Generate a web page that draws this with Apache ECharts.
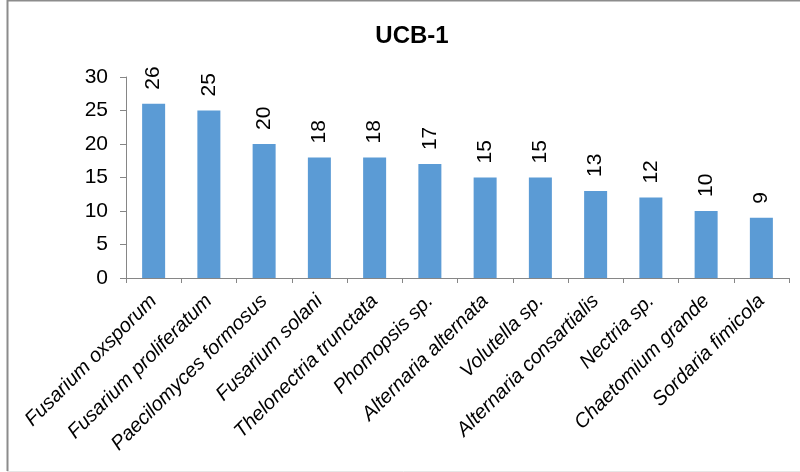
<!DOCTYPE html>
<html>
<head>
<meta charset="utf-8">
<script src="https://cdn.jsdelivr.net/npm/echarts@6/dist/echarts.min.js"></script>
<style>
  html, body { margin: 0; padding: 0; background: #ffffff; }
  #chart { width: 800px; height: 472px; }
</style>
</head>
<body>
<div id="chart"></div>
<script>
// Fungal isolates from UCB-1 and their counts
const categories = [
  'Fusarium oxsporum', 'Fusarium proliferatum', 'Paecilomyces formosus',
  'Fusarium solani', 'Thelonectria trunctata', 'Phomopsis sp.',
  'Alternaria alternata', 'Volutella sp.', 'Alternaria consartialis',
  'Nectria sp.', 'Chaetomium grande', 'Sordaria fimicola'
];
const counts = [26, 25, 20, 18, 18, 17, 15, 15, 13, 12, 10, 9];
const yTicks = { min: 0, max: 30, interval: 5 };

const chart = echarts.init(document.getElementById('chart'), null, { renderer: 'canvas' });
const axisGray = '#868686';
const font = 'Liberation Sans, Arial, sans-serif';

chart.setOption({
  animation: false,
  backgroundColor: '#ffffff',
  title: {
    text: 'UCB-1',
    left: 407,
    top: 19,
    textAlign: 'center',
    textStyle: { fontFamily: font, fontSize: 24, fontWeight: 'bold', color: '#000000' }
  },
  graphic: [
    { type: 'line', shape: { x1: 7, y1: 0.5, x2: 800, y2: 0.5 }, style: { stroke: '#8c8c8c', lineWidth: 2 } },
    { type: 'line', shape: { x1: 7.5, y1: 0, x2: 7.5, y2: 471 }, style: { stroke: '#8c8c8c', lineWidth: 2 } },
    { type: 'line', shape: { x1: 7, y1: 471.5, x2: 800, y2: 471.5 }, style: { stroke: '#e6e6e6', lineWidth: 1 } }
  ],
  grid: { left: 126, right: 11, top: 77, bottom: 194, containLabel: false },
  xAxis: {
    type: 'category',
    data: categories,
    axisLine: { lineStyle: { color: axisGray, width: 1 } },
    axisTick: { show: true, alignWithLabel: false, length: 5, lineStyle: { color: axisGray } },
    axisLabel: {
      interval: 0,
      rotate: 45,
      margin: 20,
      fontFamily: font,
      fontSize: 20,
      fontStyle: 'italic',
      color: '#000000'
    }
  },
  yAxis: {
    type: 'value',
    min: yTicks.min,
    max: yTicks.max,
    interval: yTicks.interval,
    splitLine: { show: false },
    axisLine: { show: true, lineStyle: { color: axisGray, width: 1 } },
    axisTick: { show: true, length: 6, lineStyle: { color: axisGray } },
    axisLabel: { margin: 18, fontFamily: font, fontSize: 21, color: '#000000' }
  },
  series: [{
    type: 'bar',
    data: counts,
    barWidth: 23,
    itemStyle: { color: '#5b9bd5' },
    label: {
      show: true,
      position: 'top',
      rotate: 90,
      align: 'left',
      verticalAlign: 'middle',
      distance: 14,
      fontFamily: font,
      fontSize: 21,
      color: '#000000'
    }
  }]
});
</script>
</body>
</html>
